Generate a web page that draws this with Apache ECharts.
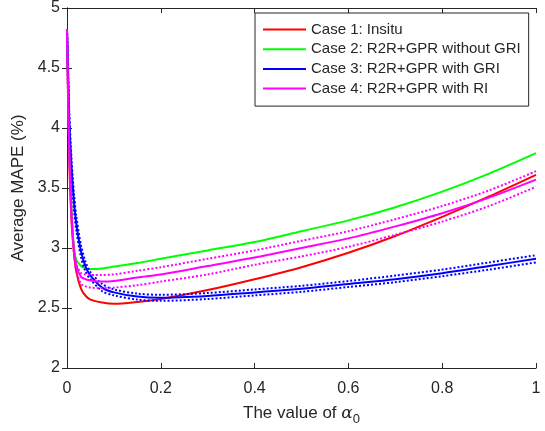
<!DOCTYPE html>
<html>
<head>
<meta charset="utf-8">
<script src="https://cdn.jsdelivr.net/npm/echarts@6/dist/echarts.min.js"></script>
<style>
  html, body { margin: 0; padding: 0; background: #fff; }
  #chart { width: 545px; height: 431px; }
</style>
</head>
<body>
<div id="chart"></div>
<script>
// alpha_0 values (x)
const alpha = [0, 0.002, 0.005, 0.01, 0.015, 0.02, 0.03, 0.04, 0.05, 0.075, 0.1, 0.15, 0.2, 0.3, 0.4, 0.5, 0.6, 0.7, 0.8, 0.9, 1];

const case1 = [4.82, 4.3, 3.7, 3.2, 2.95, 2.8, 2.66, 2.6, 2.57, 2.545, 2.535, 2.55, 2.575, 2.65, 2.74, 2.84, 2.96, 3.1, 3.26, 3.43, 3.61];
const case2 = [4.82, 4.4, 3.85, 3.3, 3.0, 2.9, 2.85, 2.83, 2.825, 2.83, 2.845, 2.875, 2.91, 2.98, 3.05, 3.14, 3.23, 3.34, 3.47, 3.62, 3.79];
const case3 = [4.82, 4.5, 4.05, 3.65, 3.38, 3.2, 2.97, 2.84, 2.77, 2.67, 2.63, 2.595, 2.585, 2.6, 2.63, 2.66, 2.7, 2.74, 2.79, 2.85, 2.91];
const case3Up = [4.82, 4.55, 4.12, 3.72, 3.45, 3.26, 3.02, 2.88, 2.8, 2.7, 2.655, 2.62, 2.61, 2.625, 2.655, 2.685, 2.725, 2.77, 2.82, 2.88, 2.94];
const case3Lo = [4.82, 4.45, 3.98, 3.58, 3.31, 3.14, 2.92, 2.8, 2.74, 2.64, 2.605, 2.57, 2.56, 2.575, 2.605, 2.635, 2.675, 2.715, 2.765, 2.82, 2.88];
const case4 = [4.82, 4.35, 3.8, 3.25, 2.98, 2.85, 2.76, 2.74, 2.73, 2.72, 2.725, 2.755, 2.78, 2.85, 2.92, 3.0, 3.08, 3.18, 3.29, 3.42, 3.57];
const case4Up = [4.82, 4.35, 3.8, 3.26, 2.99, 2.87, 2.79, 2.78, 2.775, 2.775, 2.78, 2.81, 2.84, 2.91, 2.98, 3.06, 3.14, 3.24, 3.35, 3.48, 3.64];
const case4Lo = [4.82, 4.35, 3.78, 3.22, 2.95, 2.81, 2.7, 2.68, 2.67, 2.665, 2.67, 2.69, 2.72, 2.78, 2.86, 2.93, 3.01, 3.11, 3.22, 3.35, 3.51];

const legendNames = ['Case 1: Insitu', 'Case 2: R2R+GPR without GRI', 'Case 3: R2R+GPR with GRI', 'Case 4: R2R+GPR with RI'];

const font = '"Liberation Sans", Arial, sans-serif';
const ink = '#262626';

const pts = arr => alpha.map((x, i) => [x, arr[i]]);

function line(name, arr, color, dotted) {
  return {
    name: name,
    type: 'line',
    data: pts(arr),
    showSymbol: false,
    smooth: 0.3,
    silent: true,
    lineStyle: { color: color, width: 2, type: dotted ? [2, 2] : 'solid' },
    itemStyle: { color: color }
  };
}

const chart = echarts.init(document.getElementById('chart'), null, { renderer: 'canvas' });

const axisCommon = {
  axisLine: { show: true, lineStyle: { color: ink, width: 1 } },
  axisTick: { show: true, inside: true, length: 5, lineStyle: { color: ink } },
  splitLine: { show: false }
};

chart.setOption({
  animation: false,
  textStyle: { fontFamily: font },
  grid: { left: 67, right: 9, top: 5, bottom: 63 },
  xAxis: [
    Object.assign({
      type: 'value', min: 0, max: 1, interval: 0.2, position: 'bottom',
      axisLabel: { color: ink, fontSize: 16, margin: 13, fontFamily: font },
      name: 'The value of {a|α}{s|0}',
      nameLocation: 'middle', nameGap: 33,
      nameTextStyle: {
        color: ink, fontSize: 17, fontFamily: font,
        rich: {
          a: { fontSize: 17, fontStyle: 'italic', fontFamily: '"DejaVu Serif", serif', color: ink },
          s: { fontSize: 13, color: ink, padding: [12, 0, 0, 0] }
        }
      }
    }, axisCommon),
    Object.assign({
      type: 'value', min: 0, max: 1, interval: 0.2, position: 'top',
      axisLabel: { show: false }
    }, axisCommon)
  ],
  yAxis: [
    Object.assign({
      type: 'value', min: 2, max: 5, interval: 0.5, position: 'left',
      axisLabel: { color: ink, fontSize: 16, margin: 7, fontFamily: font },
      name: 'Average MAPE (%)',
      nameLocation: 'middle', nameGap: 33,
      nameTextStyle: { color: ink, fontSize: 17, fontFamily: font }
    }, axisCommon),
    Object.assign({
      type: 'value', min: 2, max: 5, interval: 0.5, position: 'right',
      axisLabel: { show: false }
    }, axisCommon)
  ],
  legend: {
    data: legendNames,
    orient: 'vertical',
    left: 255, top: 13,
    padding: [9, 8, 10, 8],
    itemWidth: 43, itemHeight: 2, itemGap: 4.7,
    icon: 'rect',
    backgroundColor: '#fff',
    borderColor: ink, borderWidth: 1, borderRadius: 0,
    selectedMode: false,
    textStyle: { color: ink, fontSize: 15, lineHeight: 15, fontFamily: font }
  },
  series: [
    line(legendNames[0], case1, '#ff0000', false),
    line(legendNames[1], case2, '#00ff00', false),
    line(legendNames[2], case3, '#0000ff', false),
    line('c3up', case3Up, '#0000ff', true),
    line('c3lo', case3Lo, '#0000ff', true),
    line(legendNames[3], case4, '#ff00ff', false),
    line('c4up', case4Up, '#ff00ff', true),
    line('c4lo', case4Lo, '#ff00ff', true)
  ]
});
</script>
</body>
</html>
